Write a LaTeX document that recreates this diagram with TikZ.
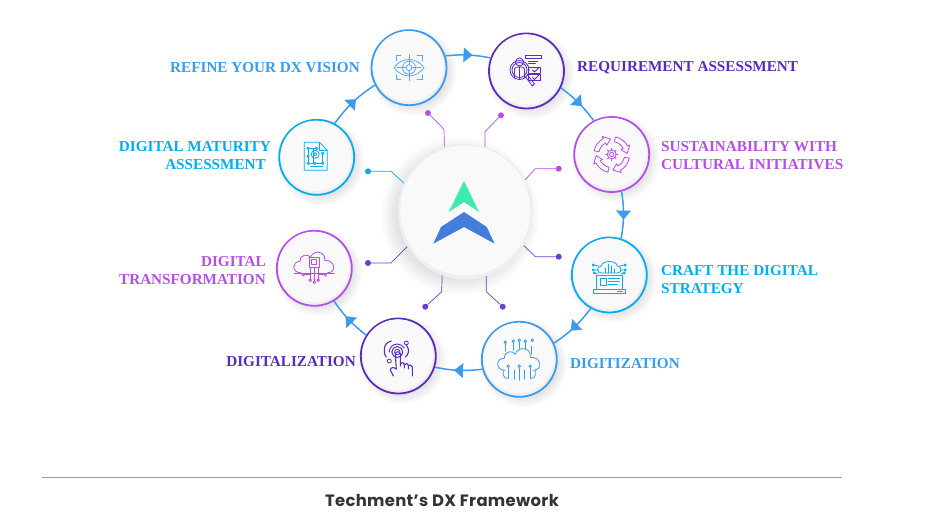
\documentclass[tikz,border=0pt]{standalone}
\usepackage{fontspec}
\setmainfont{Liberation Serif}
\newfontfamily\capfont{Poppins}[LetterSpace=2]
\usetikzlibrary{decorations.markings}
\definecolor{cblue}{HTML}{3A9BEF}
\definecolor{cviolet}{HTML}{5B2BBF}
\definecolor{cpink}{HTML}{B64FE8}
\definecolor{ccyan}{HTML}{00AEEF}
\definecolor{cdeep}{HTML}{6A3FCF}
\definecolor{cgreen}{HTML}{3DEBB0}
\definecolor{clogo}{HTML}{447DDB}
\definecolor{cdisc}{HTML}{F9F9F9}
\definecolor{crim}{HTML}{EFEFEF}
\tikzset{
  ringnode/.style={circle,draw=#1,line width=1.8pt,fill=crim,minimum size=75pt,inner sep=0pt},
  hubnode/.style={circle,fill=crim,minimum size=135pt,inner sep=0pt},
  lbl/.style={font=\fontsize{15.2}{18.3}\selectfont\bfseries,text=#1,inner sep=0pt},
  conn/.style={draw=cblue,line width=1.5pt,postaction={decorate},
    decoration={markings,mark=at position .5 with {\fill[cblue] (4.5pt,0pt)--(-4.5pt,7.5pt)--(-4.5pt,-7.5pt)--cycle;}}},
  spoke/.style={draw=#1,line width=.7pt},
  dotnode/.style={circle,fill=#1,minimum size=6pt,inner sep=0pt},
  iconink/.style={color=#1,line width=.8pt,line cap=round,line join=round},
}
\newcommand\softshadow[4]{%
  \foreach \i in {0,...,7}{\fill[black,opacity=.014] ({#1+#4},{#2+#4}) circle[radius={#3+7-\i*1.6}];}}
\newcommand\ringcircle[4]{% name, x, y, colour
  \softshadow{#2}{#3}{37}{4}
  \node[ringnode=#4] (#1) at (#2,#3) {};
  \fill[cdisc] ({#2-.6},{#3-1.4}) circle[radius=35.2];}
\newcommand\cloudicon{\draw (-14,10) .. controls (-24,10) and (-24,-2) .. (-15,-2) .. controls (-15,-10) and (-6,-10) .. (-4,-6) .. controls (-2,-14) and (12,-14) .. (11,-3) .. controls (22,-4) and (24,10) .. (14,10);}
\begin{document}
\begin{tikzpicture}[x=1pt,y=-1pt]
\useasboundingbox (0,0) rectangle (941,529);
\fill[white] (0,0) rectangle (941,529);
% hub
\foreach \i in {0,...,9}{\fill[black,opacity=.012] ({465-5},{212+4}) circle[radius={68+11-\i*1.8}];}
\node[hubnode] (hub) at (465.3,211.7) {};
\fill[cdisc] (465.3,210.5) circle[radius=65];
\fill[cgreen] (464,181)--(479,212)--(464,202)--(448.7,212)--cycle;
\fill[clogo] (464,212)--(486.7,227)--(494.7,243.7)--(464,227)--(433.3,243.7)--(441,227)--cycle;
% ring nodes
\ringcircle{vision}{409}{67.7}{cblue}
\ringcircle{req}{526.5}{71}{cviolet}
\ringcircle{sust}{611.7}{154.5}{cpink}
\ringcircle{craft}{609.3}{275}{ccyan}
\ringcircle{digiz}{519.3}{359.3}{cblue}
\ringcircle{digal}{398.3}{356}{cviolet}
\ringcircle{trans}{314.3}{268.3}{cpink}
\ringcircle{matur}{316.7}{157.3}{ccyan}
% ring connectors
\draw[conn] (matur.62) to[bend left=10] (vision.207);
\draw[conn] (vision.18) to[bend left=8] (req.160);
\draw[conn] (req.-26) to[bend left=8] (sust.118);
\draw[conn] (sust.-75) to[bend left=9] (craft.72);
\draw[conn] (craft.-119) to[bend left=9] (digiz.25);
\draw[conn] (digiz.195) to[bend left=9] (digal.-17);
\draw[conn] (digal.147) to[bend left=8.5] (trans.-59);
% spokes
\node[dotnode=cpink] (d1) at (428,113) {};
\coordinate (b1) at (444,129.3);
\draw[spoke=cpink] (d1)--(b1)--(hub.108);
\node[dotnode=cpink] (d2) at (501,115.3) {};
\coordinate (b2) at (485,131.7);
\draw[spoke=cpink] (d2)--(b2)--(hub.73);
\node[dotnode=cpink] (d3) at (558.7,168.7) {};
\coordinate (b3) at (535.3,168.7);
\draw[spoke=cpink] (d3)--(b3)--(hub.28);
\node[dotnode=cdeep] (d4) at (558.7,256.7) {};
\coordinate (b4) at (535.3,256.7);
\draw[spoke=cdeep] (d4)--(b4)--(hub.-30);
\node[dotnode=cdeep] (d5) at (502.7,306.7) {};
\coordinate (b5) at (486.3,291.7);
\draw[spoke=cdeep] (d5)--(b5)--(hub.-72);
\node[dotnode=cdeep] (d6) at (425.3,306.7) {};
\coordinate (b6) at (441.7,291.7);
\draw[spoke=cdeep] (d6)--(b6)--(hub.-110);
\node[dotnode=cdeep] (d7) at (368,263) {};
\coordinate (b7) at (391,263);
\draw[spoke=cdeep] (d7)--(b7)--(hub.211);
\node[dotnode=ccyan] (d8) at (368,171.3) {};
\coordinate (b8) at (391,171.3);
\draw[spoke=ccyan] (d8)--(b8)--(hub.155);
% labels
\node[lbl=cblue,anchor=east] (t1) at (360,68) {REFINE YOUR DX VISION};
\node[lbl=cviolet,anchor=west] (t2) at (577,68) {REQUIREMENT ASSESSMENT};
\node[lbl=cpink,anchor=west,align=left] (t3) at (661,155.7) {SUSTAINABILITY WITH\\CULTURAL INITIATIVES};
\node[lbl=ccyan,anchor=west,align=left] (t4) at (661,279.5) {CRAFT THE DIGITAL\\STRATEGY};
\node[lbl=cblue,anchor=west] (t5) at (570,364) {DIGITIZATION};
\node[lbl=cviolet,anchor=east] (t6) at (356,362) {DIGITALIZATION};
\node[lbl=cpink,anchor=east,align=right] (t7) at (266,270.7) {DIGITAL\\TRANSFORMATION};
\node[lbl=ccyan,anchor=east] (t8a) at (271,147) {DIGITAL MATURITY};
\node[lbl=ccyan,anchor=east] (t8b) at (266,165) {ASSESSMENT};
% caption
\coordinate (ruleA) at (42,477.5);
\coordinate (ruleB) at (842,477.5);
\draw[draw=black!40,line width=.7pt] (ruleA)--(ruleB);
\node[font=\capfont\fontsize{16.4}{18}\selectfont\bfseries,text=black!80,inner sep=0pt] (cap) at (442,500) {Techment’s DX Framework};
% icon: eye
\begin{scope}[shift={(vision.center)},iconink=cblue!85]
\draw (-15,0) .. controls (-7,-11) and (7,-11) .. (15,0) .. controls (7,11) and (-7,11) .. (-15,0)--cycle;
\draw (0,0) circle[radius=6.5];
\draw (0,0) circle[radius=3];
\draw (-12,0)--(-3,0) (3,0)--(12,0) (0,-13)--(0,-3) (0,3)--(0,13);
\draw (-13,-7)--(-13,-12)--(-8,-12) (8,-12)--(13,-12)--(13,-7) (-13,7)--(-13,12)--(-8,12) (8,12)--(13,12)--(13,7);
\end{scope}
% icon: requirement
\begin{scope}[shift={(req.center)},iconink=cviolet]
\draw (-7,-1) circle[radius=9.5];
\draw (-7,-1) circle[radius=7.5];
\draw (-1,6)--(6,15)--(8,13)--(1,4);
\draw (-7,-9) circle[radius=4];
\draw (-12,7)--(-12,-2) .. controls (-12,-5) and (-2,-5) .. (-2,-2)--(-2,7);
\draw (-7,-4)--(-7,8);
\draw (-1,-15.5) rectangle (15,-12.5);
\draw (2,-10)--(11,-10) (2,-7.5)--(9,-7.5);
\draw (2,-4) rectangle (14,2);
\draw (2,3.5) rectangle (14,9.5);
\draw (6,-1)--(8,1)--(12,-3) (6,6.5)--(8,8.5)--(12,4.5);
\end{scope}
% icon: sustainability
\begin{scope}[shift={(sust.center)},iconink=cpink]
\foreach \a in {12,102,192,282}{
  \draw (\a:13) arc[start angle=\a,end angle=\a+50,radius=13] -- (\a+50:10.5) -- (\a+74:15.5) -- (\a+50:20.5) -- (\a+50:18) arc[start angle=\a+50,end angle=\a,radius=18] -- cycle;
}
\draw (0,0) circle[radius=2.2];
\draw (0,0) circle[radius=4.4];
\foreach \a in {0,45,...,315}{\draw[line width=1pt] (\a:4.4)--(\a:6);}
\end{scope}
% icon: craft
\begin{scope}[shift={(craft.center)},iconink=ccyan]
\draw (-13,14)--(-13,0)--(13,0)--(13,14);
\draw (-16,14) rectangle (16,18);
\draw (-8.5,3) rectangle (-3,10);
\draw (-1,3)--(10,3) (-1,6)--(10,6) (-1,9)--(8,9);
\draw (8,16)--(13,16);
\draw (-8,-2) .. controls (-13,-2) and (-13,-9) .. (-8,-9) .. controls (-7,-15) and (7,-15) .. (8,-9) .. controls (13,-9) and (13,-2) .. (8,-2)--cycle;
\draw (-4,-2)--(-4,-7) (-1,-2)--(-1,-11) (2,-2)--(2,-9) (5,-2)--(5,-6);
\draw (-11,-5)--(-15,-5) (11,-5)--(15,-5) (-11,-9)--(-15,-10) (11,-9)--(15,-10);
\foreach \p in {(-16,-5),(16,-5),(-16,-10),(16,-10),(-15,-2),(15,-2)}{\draw \p circle[radius=1];}
\draw (-12,-2)--(-14,-2) (12,-2)--(14,-2);
\end{scope}
% icon: digitization
\begin{scope}[shift={(digiz.center)},iconink=cblue]
\begin{scope}[shift={(0,1)}]\cloudicon\end{scope}
\draw (-14,-8)--(-14,-15) (-6,-9)--(-6,-16) (0,-11)--(0,-17) (6,-10)--(6,-16) (12,-5)--(12,-13);
\foreach \p in {(-14,-17),(-6,-18),(0,-19),(6,-18),(13,-19)}{\draw \p circle[radius=1.3];}
\draw (-11,9)--(-11,19) (-5,11)--(-5,20) (0,9)--(0,21) (5,11)--(5,20) (11,9)--(11,19);
\foreach \p in {(-11,7),(0,7),(11,7)}{\draw \p circle[radius=1.3];}
\draw (-16,11)--(-16,16) .. controls (-16,19) and (-13,19) .. (-11,19);
\draw (16,11)--(16,16) .. controls (16,19) and (13,19) .. (11,19);
\end{scope}
% icon: digitalization
\begin{scope}[shift={(digal.center)},iconink=cviolet]
\draw (-1,-4) circle[radius=2.8];
\draw[line width=1pt] (-1,-4) circle[radius=5.5];
\draw[line width=.9pt] (-9,-4) arc[start angle=180,end angle=330,radius=8];
\draw[line width=1.1pt] (-7,-15) .. controls (-16,-13) and (-15,-2) .. (-12,1);
\draw (8,-13) circle[radius=2];
\draw (-9,5) circle[radius=2];
\draw[line width=1.1pt] (8,-11)  .. controls (12,-6) and (10,-1) .. (7,1);
\draw[line width=1.1pt] (-2,13)--(-3,-2) .. controls (-3,-5) and (2,-5) .. (2,-2)--(2,8)--(2,10) (2,8)  .. controls (3,6) and (6,6) .. (6,9)--(6,12) (6,9) .. controls (7,7) and (10,7) .. (10,10)--(10,13) (10,10) .. controls (11,8) and (14,9) .. (14,11)--(14,20);
\draw[line width=1.1pt] (-2,13) .. controls (-4,11) and (-8,11) .. (-8,14)--(-5,20);
\end{scope}
% icon: transformation
\begin{scope}[shift={(trans.center)},iconink=cpink]
\begin{scope}[shift={(0,-5)},scale=.95]\cloudicon\end{scope}
\draw (-5,-11) rectangle (5,-1);
\draw (-2.5,-8.5) rectangle (2.5,-3.5);
\draw (-4,-1)--(-4,11) (0,-1)--(0,13) (4,-1)--(4,11);
\draw (-20,5)--(20,5);
\draw (-9,6.5)--(-4,6.5) (9,6.5)--(4,6.5);
\foreach \p in {(-11,6.5),(11,6.5),(-4,12),(4,12),(0,14)}{\draw \p circle[radius=1.3];}
\end{scope}
% icon: maturity
\begin{scope}[shift={(matur.center)},iconink=ccyan]
\draw (-12.5,-15)--(3,-15)--(10.5,-7)--(10.5,13)--(-12.5,13)--cycle;
\draw (3,-15)--(3,-7)--(10.5,-7);
\draw (-8.5,-9) rectangle (-3,6);
\draw (-8.5,-9)--(0,-9) (-8.5,6)--(6,6) (6,-4)--(6,6);
\foreach \p in {(-8.5,-9),(-8.5,-1),(-8.5,6),(-2,6),(6,6),(6,-4),(0,-9)}{\fill[white] \p circle[radius=1.2];\draw \p circle[radius=1.2];}
\draw (-1.5,-3) circle[radius=4];
\draw (-1.5,-3) circle[radius=1.6];
\draw (-6,9.5)--(6,9.5);
\end{scope}
\end{tikzpicture}
\end{document}
